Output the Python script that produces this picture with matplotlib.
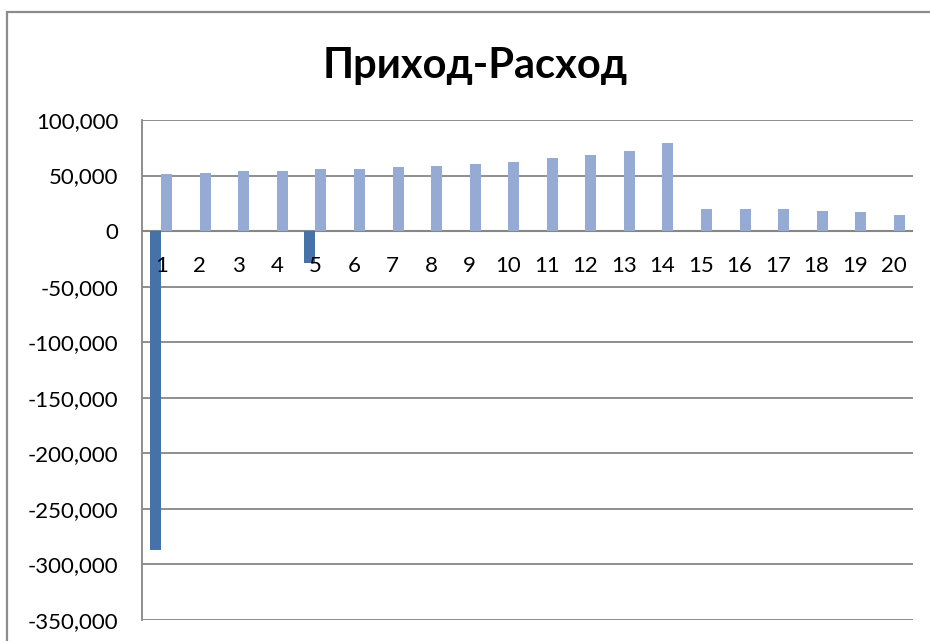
import matplotlib
matplotlib.use("Agg")
import matplotlib.pyplot as plt
from matplotlib.ticker import FuncFormatter
from matplotlib.patches import Rectangle
import numpy as np

categories = [str(i) for i in range(1, 21)]
expense = [-287000, 0, 0, 0, -29000, 0, 0, 0, 0, 0,
           0, 0, 0, 0, 0, 0, 0, 0, 0, 0]
income = [51000, 52000, 54400, 53800, 55800, 55500, 57300, 58500, 60000, 62100,
          65400, 68400, 71700, 79500, 19800, 19500, 19500, 18000, 16800, 14400]
y_ticks = list(range(-350000, 100001, 50000))

dark = "#4572A7"
light = "#95ABD4"
grid = "#868686"

plt.rcParams["font.family"] = ["Lato", "DejaVu Sans"]

fig = plt.figure(figsize=(9.30, 6.41), dpi=100)
fig.patch.set_facecolor("white")

# chart-area frame
fig.add_artist(Rectangle((6.5 / 930, -0.1), 2.0, 1.1 - 11.5 / 641,
                         transform=fig.transFigure, fill=False,
                         edgecolor="#8c8c8c", linewidth=1.6))

ax = fig.add_axes([142 / 930, 1 - 620 / 641, (913 - 142) / 930, (620 - 120) / 641])

x = np.arange(len(categories))
w = 1 / 3.5
ax.bar(x - w / 2, expense, width=w, color=dark, zorder=3)
ax.bar(x + w / 2, income, width=w, color=light, zorder=3)

ax.set_xlim(-0.5, len(categories) - 0.5)
ax.set_ylim(-350000, 100000)
ax.set_yticks(y_ticks)
ax.yaxis.set_major_formatter(FuncFormatter(lambda v, p: f"{int(v):,}"))
ax.tick_params(axis="y", length=0, pad=17, labelsize=16, colors="black")
ax.set_xticks([])
ax.grid(axis="y", color=grid, linewidth=1.3, zorder=1)
ax.axhline(0, color=grid, linewidth=1.5, zorder=2)

for s in ("top", "right", "bottom"):
    ax.spines[s].set_visible(False)
ax.spines["left"].set_color(grid)
ax.spines["left"].set_linewidth(1.3)

for xi, lab in zip(x, categories):
    ax.text(xi, -31000, lab, ha="center", va="center", fontsize=16, zorder=5)

fig.text(475 / 930, 1 - 66 / 641, "Приход-Расход", ha="center", va="center",
         fontsize=30, fontweight="bold")

fig.savefig("out.png", dpi=100)
